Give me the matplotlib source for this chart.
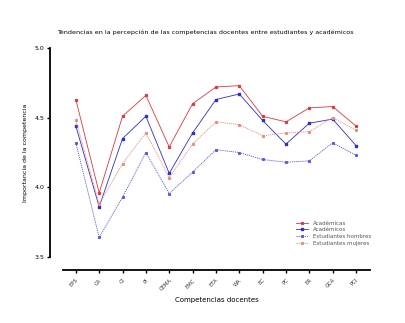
import matplotlib
matplotlib.use("Agg")
import matplotlib.pyplot as plt

# competencias evaluadas (eje x)
competencias = ["EPS", "CA", "CI", "PI", "CEMA", "EMC", "ETA",
                "WA", "EC", "PC", "ER", "GCA", "PCI"]

academicas = [4.63, 3.96, 4.51, 4.66, 4.29, 4.60, 4.72, 4.73, 4.51, 4.47, 4.57, 4.58, 4.44]
academicos = [4.44, 3.86, 4.35, 4.51, 4.10, 4.39, 4.63, 4.67, 4.48, 4.31, 4.46, 4.49, 4.30]
est_hombres = [4.32, 3.64, 3.93, 4.25, 3.955, 4.11, 4.27, 4.25, 4.20, 4.18, 4.19, 4.32, 4.23]
est_mujeres = [4.48, 3.88, 4.17, 4.39, 4.07, 4.31, 4.47, 4.45, 4.37, 4.39, 4.40, 4.50, 4.41]

fig = plt.figure(figsize=(4.06, 3.23), dpi=100)
# axes box in pixels: x 63..370, y 48..257 (from top)
ax = fig.add_axes([63 / 406, (323 - 257) / 323, (370 - 63) / 406, (257 - 48) / 323])

# spines first: set_position resets the ticks
for s in ["top", "right"]:
    ax.spines[s].set_visible(False)
ax.spines["left"].set_position(("outward", 9.4))
ax.spines["bottom"].set_position(("outward", 9.4))
ax.spines["left"].set_linewidth(1.3)
ax.spines["bottom"].set_linewidth(1.3)

x = list(range(len(competencias)))
ax.plot(x, academicas, color="#e8343a", lw=0.6, marker="s", ms=1.3, label="Académicas")
ax.plot(x, academicos, color="#2c2fd0", lw=0.6, marker="s", ms=1.8, label="Académicos")
ax.plot(x, est_hombres, color="#5a5ae0", lw=0.6, ls=(0, (1.5, 1)), marker="s", ms=1.2,
        label="Estudiantes hombres")
ax.plot(x, est_mujeres, color="#f08a78", lw=0.6, ls=(0, (1.5, 1)), marker="s", ms=1.2,
        label="Estudiantes mujeres")

ax.set_xlim(-0.55, 12.6)
ax.set_ylim(3.5, 5.0)
ax.set_yticks([3.5, 4.0, 4.5, 5.0])
ax.set_yticklabels(["3.5", "4.0", "4.5", "5.0"], fontsize=4.5)
ax.set_xticks(x)
ax.set_xticklabels(competencias, rotation=45, fontsize=3.8, ha="right",
                   rotation_mode="anchor", color="#333333")
ax.tick_params(width=1.0, length=2.5, pad=1.5)
ax.tick_params(axis="x", pad=3)

ax.set_ylabel("Importancia de la competencia", fontsize=4.5, labelpad=5)
ax.set_xlabel("Competencias docentes", fontsize=5, labelpad=4)
fig.text(0.505, 0.895, "Tendencias en la percepción de las competencias docentes entre estudiantes y académicos",
         fontsize=4.6, ha="center")

ax.legend(loc="lower right", bbox_to_anchor=(1.02, 0.03), fontsize=4, frameon=False,
          handlelength=2.2, labelspacing=0.3, handletextpad=0.8, labelcolor="#555555")

fig.savefig("out.png", dpi=100)
